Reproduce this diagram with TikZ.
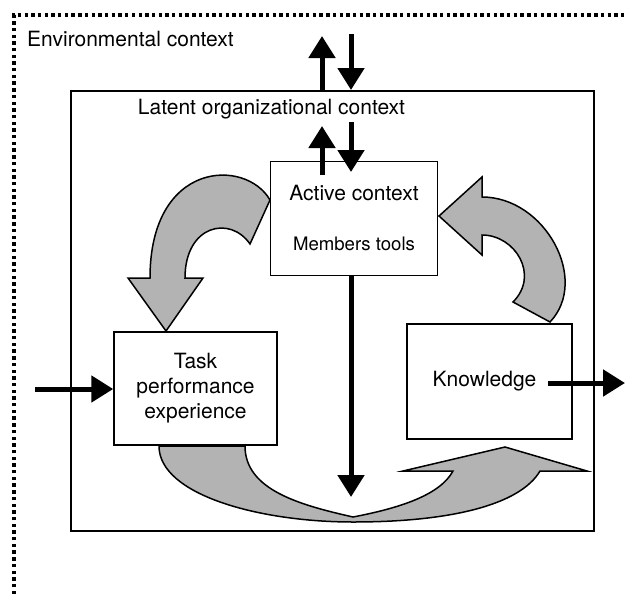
\documentclass[tikz,border=0pt]{standalone}
\usepackage{fontspec}
\setmainfont{TeX Gyre Heros}
\usetikzlibrary{arrows.meta}
\definecolor{flowgray}{RGB}{179,179,179}

\begin{document}
\begin{tikzpicture}[x=1pt, y=-1pt,
    box/.style={rectangle, draw, line width=1.5pt, fill=white, align=center, inner sep=0pt, font=\fontsize{21}{25}\selectfont},
    caption/.style={anchor=base, inner sep=0pt, font=\fontsize{21}{25}\selectfont},
    bigarrow/.style={-{Triangle[width=26pt, length=22pt]}, line width=5pt},
    flow/.style={draw, line width=1.5pt, fill=flowgray, line join=miter}]

    \useasboundingbox (0,0) rectangle (628,594);

    % environment and latent context
    \draw[line width=3.4pt, dash pattern=on 3.4pt off 3.3pt] (14,594) -- (14,15) -- (628,15);
    \node[caption, anchor=base west] (envtext) at (27,47) {Environmental context};
    \node[box, line width=2pt, fill=none, minimum width=523pt, minimum height=440pt] (latent) at (332.5,311) {};
    \node[caption] (latenttext) at (271.5,114) {Latent organizational context};

    % grey flow arrows
    \draw[flow] (270,200) .. controls (246,158) and (150,160) .. (150,278)
        -- (128,278) -- (166,331) -- (203,278) -- (185,278)
        .. controls (185,225) and (230,215) .. (250,244) -- cycle;
    \draw[flow] (550,322) .. controls (590,280) and (545,197) .. (482,197)
        -- (482,177) -- (439,216) -- (482,255) -- (482,235)
        .. controls (515,235) and (540,275) .. (513,302) -- cycle;
    \draw[flow] (159,446) .. controls (159,495) and (260,522) .. (353,522)
        .. controls (450,522) and (520,505) .. (540,471)
        -- (587,471) -- (505,447) -- (403,471) -- (453,471)
        .. controls (440,495) and (400,508) .. (353,517)
        .. controls (300,505) and (245,490) .. (245,446) -- cycle;

    % boxes
    \node[box, minimum width=167pt, minimum height=114pt] (active) at (354,218.5) {};
    \node[caption] (activetext) at (354,200.5) {Active context};
    \node[caption, font=\fontsize{18.6}{22}\selectfont] (memberstext) at (354,250) {Members tools};
    \node[box, minimum width=163pt, minimum height=113pt] (task) at (195.5,388.5) {Task\\performance\\experience};
    \node[box, minimum width=165pt, minimum height=115pt] (knowledge) at (489.5,381.5) {Knowledge\kern10pt};

    % black arrows
    \coordinate (envup) at (322,36);
    \coordinate (envdown) at (351,34);
    \coordinate (upstart) at (322,175);
    \coordinate (upend) at (322,126);
    \coordinate (downstart) at (351,122);
    \coordinate (downend) at (351,172);
    \coordinate (taskin) at (35,389);
    \coordinate (knowstart) at (548,383);
    \coordinate (knowout) at (625,383);
    \coordinate (centerend) at (351,497);

    \draw[bigarrow] (latent.north -| envup) -- (envup);
    \draw[bigarrow] (envdown) -- (latent.north -| envdown);
    \draw[bigarrow] (upstart) -- (upend);
    \draw[bigarrow] (downstart) -- (downend);
    \draw[bigarrow] (taskin) -- (task.west |- taskin);
    \draw[bigarrow] (knowstart) -- (knowout);
    \draw[bigarrow] (active.south -| centerend) -- (centerend);
\end{tikzpicture}
\end{document}
